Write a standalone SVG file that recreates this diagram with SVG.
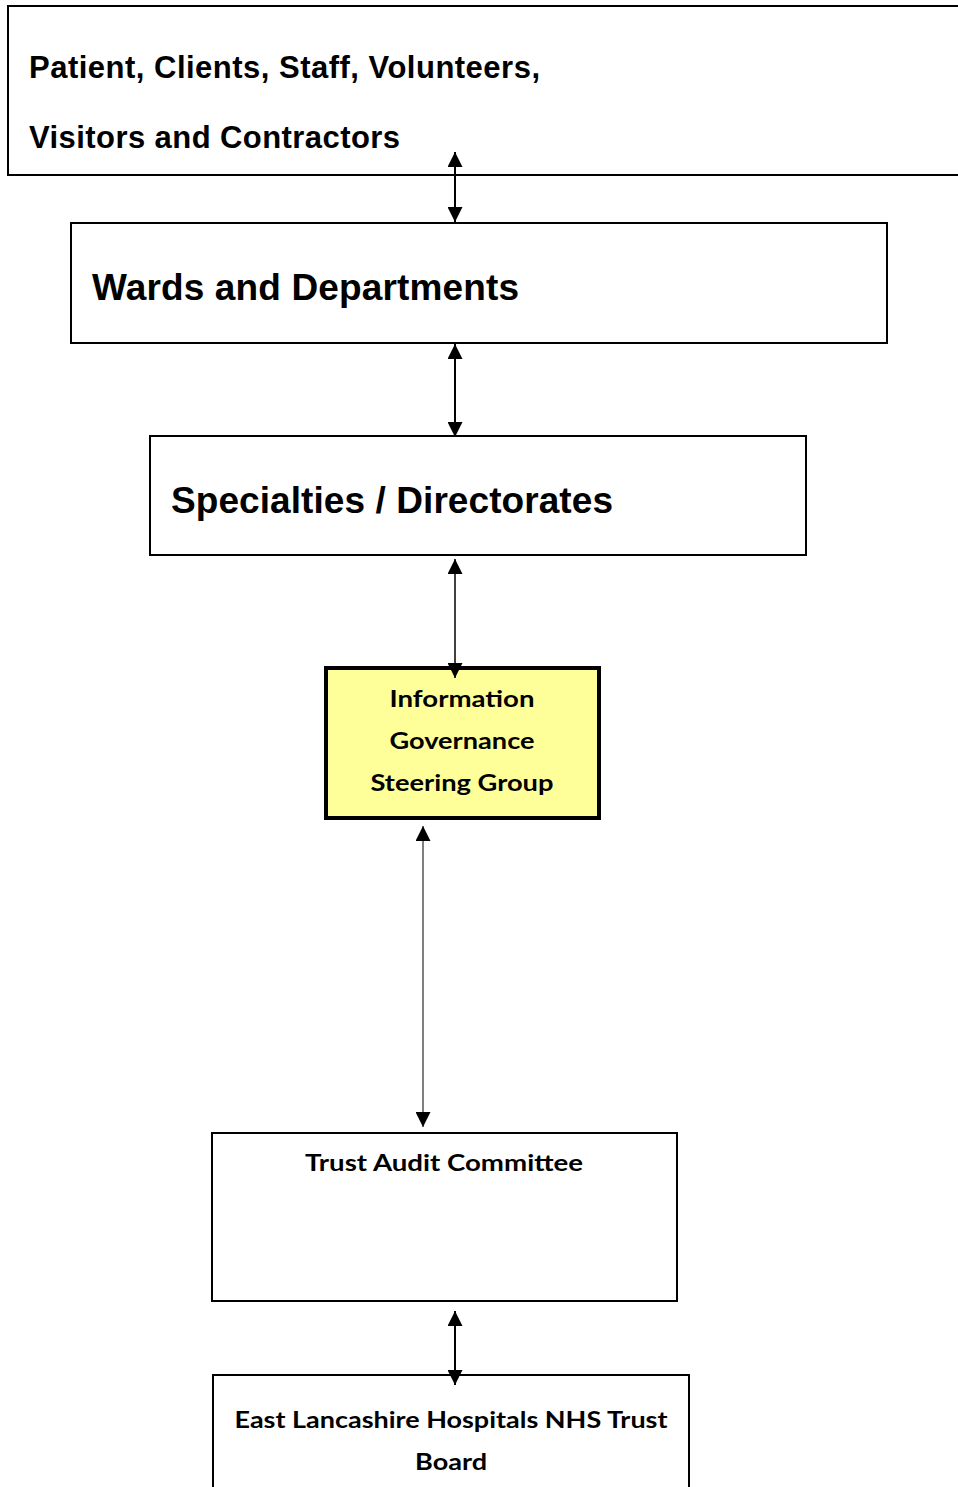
<svg xmlns="http://www.w3.org/2000/svg" width="958" height="1487" viewBox="0 0 958 1487">
<style>
.box{fill:#fff;stroke:#000;stroke-width:2}
.arial{font-family:"Liberation Sans",Arial,sans-serif;font-weight:bold;fill:#000}
.cal{font-family:Lato,"Open Sans",sans-serif;font-weight:bold;fill:#000}
.conn{stroke:#000;stroke-width:2;fill:none;marker-start:url(#ah);marker-end:url(#ah)}
</style>
<defs>
<marker id="ah" markerUnits="userSpaceOnUse" markerWidth="15" markerHeight="15" refX="15" refY="7.5" orient="auto-start-reverse" viewBox="0 0 15 15">
<path d="M0,0 L15,7.5 L0,15 z" fill="#000"/>
</marker>
</defs>
<rect width="958" height="1487" fill="#fff"/>
<g id="n1">
<rect class="box" x="8" y="6" width="960" height="169"/>
<text class="arial" x="29" y="78" font-size="31" textLength="511" lengthAdjust="spacing">Patient, Clients, Staff, Volunteers,</text>
<text class="arial" x="29" y="148" font-size="31" textLength="371" lengthAdjust="spacing">Visitors and Contractors</text>
</g>
<g id="n2">
<rect class="box" x="71" y="223" width="816" height="120"/>
<text class="arial" x="92" y="300" font-size="37" textLength="427" lengthAdjust="spacing">Wards and Departments</text>
</g>
<g id="n3">
<rect class="box" x="150" y="436" width="656" height="119"/>
<text class="arial" x="171" y="513" font-size="37" textLength="442" lengthAdjust="spacing">Specialties / Directorates</text>
</g>
<g id="n4">
<rect x="326" y="668" width="273" height="150" fill="#ffff99" stroke="#000" stroke-width="4"/>
<text class="cal" x="462" y="707" font-size="23" text-anchor="middle" textLength="145" lengthAdjust="spacingAndGlyphs">Information</text>
<text class="cal" x="462" y="749" font-size="23" text-anchor="middle" textLength="145" lengthAdjust="spacingAndGlyphs">Governance</text>
<text class="cal" x="462" y="791" font-size="23" text-anchor="middle" textLength="183" lengthAdjust="spacingAndGlyphs">Steering Group</text>
</g>
<g id="n5">
<rect class="box" x="212" y="1133" width="465" height="168"/>
<text class="cal" x="444" y="1171" font-size="23" text-anchor="middle" textLength="278" lengthAdjust="spacingAndGlyphs">Trust Audit Committee</text>
</g>
<g id="n6">
<rect class="box" x="213" y="1375" width="476" height="130"/>
<text class="cal" x="451" y="1428" font-size="23" text-anchor="middle" textLength="433" lengthAdjust="spacingAndGlyphs">East Lancashire Hospitals NHS Trust</text>
<text class="cal" x="451" y="1470" font-size="23" text-anchor="middle" textLength="72" lengthAdjust="spacingAndGlyphs">Board</text>
</g>
<g id="connectors">
<line class="conn" x1="455" y1="152" x2="455" y2="222"/>
<line class="conn" x1="455" y1="344" x2="455" y2="437"/>
<line class="conn" x1="455" y1="559" x2="455" y2="678" style="stroke-width:1.5"/>
<line class="conn" x1="423" y1="826" x2="423" y2="1127" style="stroke-width:1"/>
<line class="conn" x1="455" y1="1311" x2="455" y2="1385"/>
</g>
</svg>
